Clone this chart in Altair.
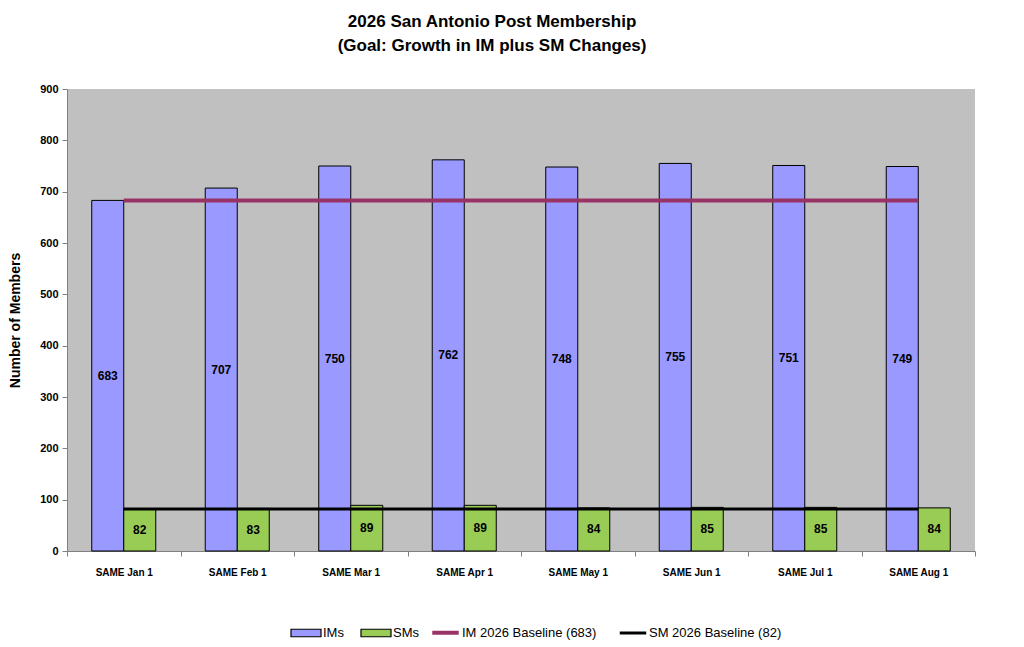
import altair as alt
import pandas as pd

categories = ["SAME Jan 1", "SAME Feb 1", "SAME Mar 1", "SAME Apr 1",
              "SAME May 1", "SAME Jun 1", "SAME Jul 1", "SAME Aug 1"]
im_values = [683, 707, 750, 762, 748, 755, 751, 749]
sm_values = [82, 83, 89, 89, 84, 85, 85, 84]
series_names = ["IMs", "SMs"]
series_colors = ["#9999FF", "#99CC55"]
baseline_names = ["IM 2026 Baseline (683)", "SM 2026 Baseline (82)"]
baseline_values = [683, 82]
baseline_colors = ["#993366", "#000000"]

rows = []
for c, v in zip(categories, im_values):
    rows.append({"category": c, "series": "IMs", "value": v, "half": v / 2})
for c, v in zip(categories, sm_values):
    rows.append({"category": c, "series": "SMs", "value": v, "half": v / 2})
bars_df = pd.DataFrame(rows)

line_rows = []
for name, val in zip(baseline_names, baseline_values):
    for c in categories:
        line_rows.append({"category": c, "line": name, "value": val})
lines_df = pd.DataFrame(line_rows)

FONT = "Liberation Sans"

x_enc = alt.X("category:N", sort=categories,
              scale=alt.Scale(paddingInner=0, paddingOuter=0),
              axis=alt.Axis(title=None, labelAngle=0, tickBand="extent",
                            labelFont=FONT, labelFontWeight="bold", labelFontSize=10,
                            labelColor="black", labelPadding=11, tickSize=5,
                            domainColor="#808080", tickColor="#808080"))
y_scale = alt.Scale(domain=[0, 900], nice=False)
y_axis = alt.Axis(title="Number of Members", values=list(range(0, 901, 100)),
                  grid=False, labelFont=FONT, labelFontWeight="bold", labelFontSize=11,
                  labelColor="black", titleFont=FONT, titleFontWeight="bold",
                  titleFontSize=14, titleColor="black", titlePadding=17,
                  domainColor="#808080", tickColor="#808080", tickSize=5, labelPadding=4)
xoff = alt.XOffset("series:N", sort=series_names,
                   scale=alt.Scale(domain=series_names, paddingInner=0, paddingOuter=0.773))

bars = alt.Chart(bars_df).mark_bar(stroke="black", strokeWidth=1).encode(
    x=x_enc,
    xOffset=xoff,
    y=alt.Y("value:Q", scale=y_scale, axis=y_axis),
    color=alt.Color("series:N", scale=alt.Scale(domain=series_names, range=series_colors),
                    legend=alt.Legend(title=None, orient="none", direction="horizontal",
                                      legendX=223, legendY=528,
                                      symbolType="M-1,-0.25H1V0.25H-1Z", symbolSize=900,
                                      symbolStrokeColor="black", symbolStrokeWidth=1.2,
                                      labelFont=FONT, labelFontSize=13, labelColor="black",
                                      labelOffset=1, columnPadding=14)),
)

labels = alt.Chart(bars_df).mark_text(font=FONT, fontWeight="bold", fontSize=12,
                                      color="black").encode(
    x=alt.X("category:N", sort=categories),
    xOffset=xoff,
    y=alt.Y("half:Q", scale=y_scale),
    text="value:Q",
)

lines = alt.Chart(lines_df).mark_line().encode(
    x=alt.X("category:N", sort=categories),
    y=alt.Y("value:Q", scale=y_scale),
    stroke=alt.Stroke("line:N", scale=alt.Scale(domain=baseline_names, range=baseline_colors),
                      legend=alt.Legend(title=None, orient="none", direction="horizontal",
                                        legendX=363, legendY=528,
                                        symbolType="stroke", symbolSize=700,
                                        symbolStrokeWidth=2,
                                        labelFont=FONT, labelFontSize=13, labelColor="black",
                                        labelOffset=1, columnPadding=16)),
    strokeWidth=alt.StrokeWidth("line:N", scale=alt.Scale(domain=baseline_names, range=[4, 3]),
                                legend=None),
)

chart = alt.layer(bars, lines, labels).properties(
    width=908, height=462,
    title=alt.TitleParams(["2026 San Antonio Post Membership",
                           "(Goal: Growth in IM plus SM Changes)"],
                          font=FONT, fontSize=17, fontWeight="bold", color="black",
                          lineHeight=24, anchor="middle", frame="bounds", offset=28),
    padding={"left": 0, "top": 5, "right": 5, "bottom": 0},
    background="white",
).configure_view(fill="#C0C0C0", stroke=None)

chart.save("out.html", embed_options={"renderer": "svg", "actions": False})
